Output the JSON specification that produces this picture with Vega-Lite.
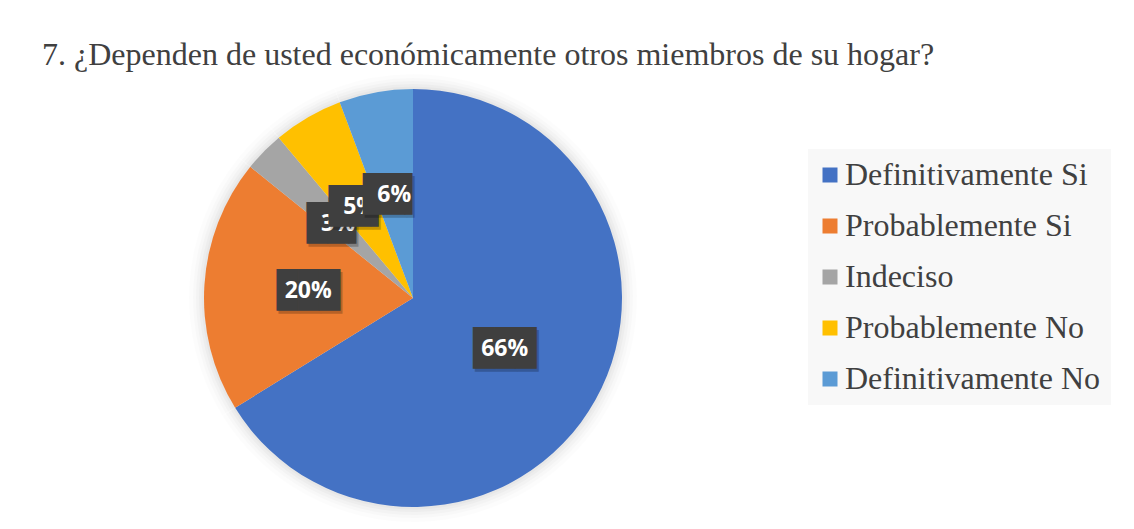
{
  "$schema": "https://vega.github.io/schema/vega-lite/v6.json",
  "width": 418,
  "height": 418,
  "autosize": {"type": "none"},
  "padding": {"left": 204, "top": 89, "right": 512, "bottom": 22},
  "background": "white",
  "config": {"view": {"stroke": null}},
  "title": {
    "text": "7. ¿Dependen de usted económicamente otros miembros de su hogar?",
    "anchor": "start",
    "frame": "group",
    "dx": -162,
    "offset": -23,
    "baseline": "alphabetic",
    "font": "Liberation Serif",
    "fontSize": 32,
    "fontWeight": "normal",
    "color": "#404040"
  },
  "data": {
    "values": [
      {"categoria": "Definitivamente Si", "pct": 0.662, "orden": 1},
      {"categoria": "Probablemente Si", "pct": 0.196, "orden": 2},
      {"categoria": "Indeciso", "pct": 0.031, "orden": 3},
      {"categoria": "Probablemente No", "pct": 0.054, "orden": 4},
      {"categoria": "Definitivamente No", "pct": 0.057, "orden": 5}
    ]
  },
  "encoding": {
    "theta": {"field": "pct", "type": "quantitative", "stack": true},
    "order": {"field": "orden", "type": "quantitative", "sort": "ascending"}
  },
  "layer": [
    {"mark": {"type": "arc", "outerRadius": 224, "color": "#000000", "opacity": 0.012}},
    {"mark": {"type": "arc", "outerRadius": 220, "color": "#000000", "opacity": 0.016}},
    {"mark": {"type": "arc", "outerRadius": 217, "color": "#000000", "opacity": 0.02}},
    {"mark": {"type": "arc", "outerRadius": 214, "color": "#000000", "opacity": 0.022}},
    {"mark": {"type": "arc", "outerRadius": 211.5, "color": "#000000", "opacity": 0.025}},
    {
      "mark": {"type": "arc", "outerRadius": 209},
      "encoding": {
        "color": {
          "field": "categoria",
          "type": "nominal",
          "scale": {
            "domain": ["Definitivamente Si", "Probablemente Si", "Indeciso", "Probablemente No", "Definitivamente No"],
            "range": ["#4472C4", "#ED7D31", "#A5A5A5", "#FFC000", "#5B9BD5"]
          },
          "legend": {
            "orient": "none",
            "legendX": 604,
            "legendY": 60,
            "title": null,
            "fillColor": "#F8F8F8",
            "padding": 10,
            "symbolOffset": -4,
            "symbolType": "square",
            "symbolSize": 225,
            "symbolStrokeWidth": 0,
            "labelFont": "Liberation Serif",
            "labelFontSize": 32,
            "labelColor": "#404040",
            "labelOffset": -1,
            "labelLimit": 400,
            "rowPadding": 19
          }
        }
      }
    },
    {
      "mark": {"type": "text", "radius": 105, "dx": 2, "dy": 3, "font": "DejaVu Sans Mono", "fontSize": 35, "color": "#000000", "opacity": 0.22, "align": "center", "baseline": "middle"},
      "encoding": {"text": {"condition": {"test": "datum.orden <= 2", "value": "███"}, "value": ""}}
    },
    {
      "mark": {"type": "text", "radius": 105, "dx": 2, "dy": 3, "font": "DejaVu Sans Mono", "fontSize": 35, "color": "#000000", "opacity": 0.22, "align": "center", "baseline": "middle"},
      "encoding": {"text": {"condition": {"test": "datum.orden == 3", "value": "██▍"}, "value": ""}}
    },
    {
      "mark": {"type": "text", "radius": 105, "font": "DejaVu Sans Mono", "fontSize": 35, "color": "#3F3F3F", "align": "center", "baseline": "middle"},
      "encoding": {"text": {"condition": {"test": "datum.orden <= 2", "value": "███"}, "value": ""}}
    },
    {
      "mark": {"type": "text", "radius": 105, "font": "DejaVu Sans Mono", "fontSize": 35, "color": "#3F3F3F", "align": "center", "baseline": "middle"},
      "encoding": {"text": {"condition": {"test": "datum.orden == 3", "value": "██▍"}, "value": ""}}
    },
    {
      "mark": {"type": "text", "radius": 105, "font": "Open Sans", "fontWeight": "bold", "fontSize": 23, "color": "#FFFFFF", "align": "center", "baseline": "middle"},
      "encoding": {"text": {"condition": {"test": "datum.orden <= 3", "field": "pct", "type": "quantitative", "format": ".0%"}, "value": ""}}
    },
    {
      "mark": {"type": "text", "radius": 105, "dx": 2, "dy": 3, "font": "DejaVu Sans Mono", "fontSize": 35, "color": "#000000", "opacity": 0.22, "align": "center", "baseline": "middle"},
      "encoding": {"text": {"condition": {"test": "datum.orden == 4", "value": "██▍"}, "value": ""}}
    },
    {
      "mark": {"type": "text", "radius": 105, "font": "DejaVu Sans Mono", "fontSize": 35, "color": "#3F3F3F", "align": "center", "baseline": "middle"},
      "encoding": {"text": {"condition": {"test": "datum.orden == 4", "value": "██▍"}, "value": ""}}
    },
    {
      "mark": {"type": "text", "radius": 105, "font": "Open Sans", "fontWeight": "bold", "fontSize": 23, "color": "#FFFFFF", "align": "center", "baseline": "middle"},
      "encoding": {"text": {"condition": {"test": "datum.orden == 4", "field": "pct", "type": "quantitative", "format": ".0%"}, "value": ""}}
    },
    {
      "mark": {"type": "text", "radius": 105, "dx": 2, "dy": 3, "font": "DejaVu Sans Mono", "fontSize": 35, "color": "#000000", "opacity": 0.22, "align": "center", "baseline": "middle"},
      "encoding": {"text": {"condition": {"test": "datum.orden == 5", "value": "██▍"}, "value": ""}}
    },
    {
      "mark": {"type": "text", "radius": 105, "font": "DejaVu Sans Mono", "fontSize": 35, "color": "#3F3F3F", "align": "center", "baseline": "middle"},
      "encoding": {"text": {"condition": {"test": "datum.orden == 5", "value": "██▍"}, "value": ""}}
    },
    {
      "mark": {"type": "text", "radius": 105, "font": "Open Sans", "fontWeight": "bold", "fontSize": 23, "color": "#FFFFFF", "align": "center", "baseline": "middle"},
      "encoding": {"text": {"condition": {"test": "datum.orden == 5", "field": "pct", "type": "quantitative", "format": ".0%"}, "value": ""}}
    }
  ]
}
